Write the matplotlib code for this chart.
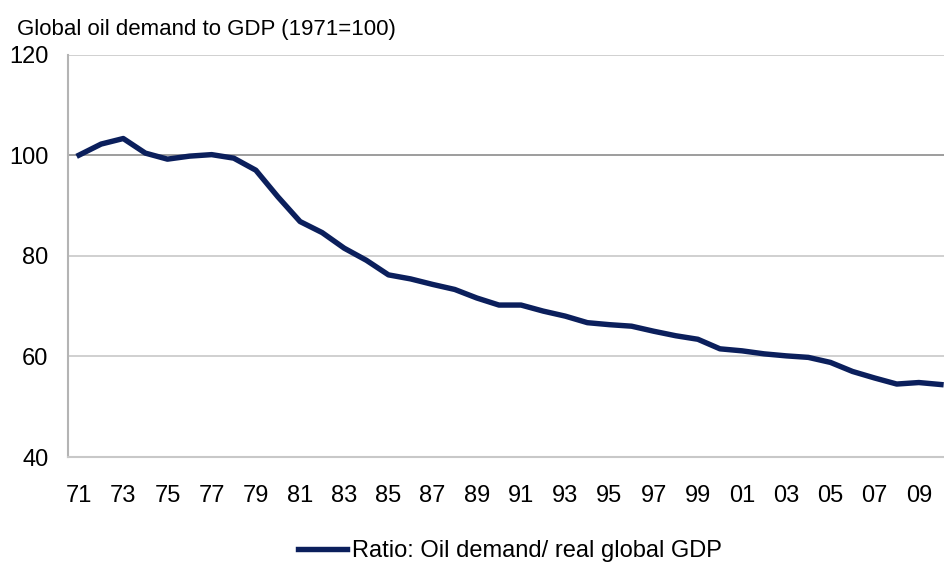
"""
Global oil demand to GDP ratio, 1971=100.
"""

import matplotlib
matplotlib.use("Agg")
import matplotlib.pyplot as plt

plt.rcParams["font.family"] = ["Liberation Sans", "DejaVu Sans"]

# data
years = list(range(1971, 2011))
ratio = [
    100.0, 102.2, 103.3, 100.4, 99.2, 99.8, 100.1, 99.4, 97.0, 91.7,
    86.8, 84.6, 81.5, 79.1, 76.2, 75.4, 74.3, 73.3, 71.6, 70.2,
    70.2, 69.0, 68.0, 66.7, 66.3, 66.0, 65.0, 64.1, 63.4, 61.5,
    61.1, 60.5, 60.1, 59.8, 58.8, 57.0, 55.7, 54.5, 54.8, 54.4,
]
y_ticks = [40, 60, 80, 100, 120]
series_label = "Ratio: Oil demand/ real global GDP"
chart_title = "Global oil demand to GDP (1971=100)"

LINE_COLOR = "#0b1f5c"
GRID_COLOR = "#c8c8c8"

fig = plt.figure(figsize=(9.45, 5.66), dpi=100)
ax = fig.add_axes([68 / 945, 109 / 566, 884 / 945, 402.5 / 566])

idx = list(range(len(years)))
line, = ax.plot(idx, ratio, color=LINE_COLOR, lw=3.9, solid_joinstyle="round",
                label=series_label, zorder=3)

ax.set_xlim(-0.5, len(years) - 0.5)
ax.set_ylim(40, 120)
ax.set_yticks(y_ticks)
ax.set_yticklabels([str(v) for v in y_ticks])
ax.set_xticks(idx[::2])
ax.set_xticklabels([f"{y % 100:02d}" for y in years[::2]])

for v in y_ticks[1:]:
    ax.axhline(v, color="#8c8c8c" if v == 100 else GRID_COLOR, lw=1.2, zorder=1)

for s in ["top", "right"]:
    ax.spines[s].set_visible(False)
ax.spines["left"].set_color("#b4b4b4")
ax.spines["left"].set_linewidth(1.5)
ax.spines["bottom"].set_color(GRID_COLOR)
ax.spines["bottom"].set_linewidth(1.5)

ax.tick_params(axis="y", length=0, pad=14, labelsize=17)
ax.tick_params(axis="x", length=0, pad=20, labelsize=17)

fig.text(17 / 945, 1 - 35 / 566, chart_title, fontsize=16, va="baseline", ha="left")

fig.legend(handles=[line], loc="center", bbox_to_anchor=(510 / 945, 1 - 551 / 566),
           frameon=False, fontsize=17, handlelength=2.1, handletextpad=0.2,
           borderpad=0, borderaxespad=0)

fig.savefig("out.png", dpi=100)
